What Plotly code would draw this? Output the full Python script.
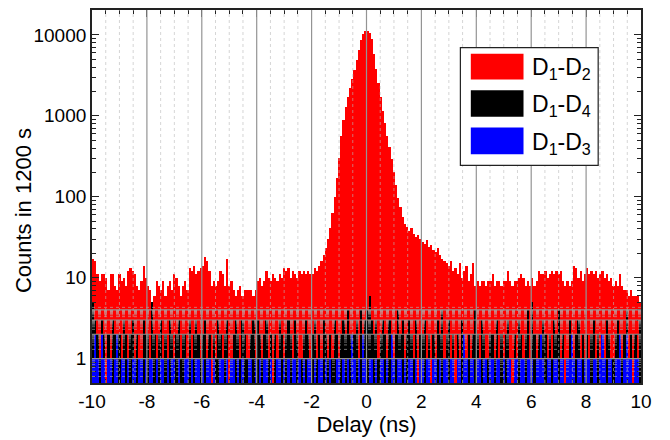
import math
import plotly.graph_objects as go

# ---------------- data (bins of 0.08 ns, centres -9.96 ... 9.96) ----------------
bin_width = 0.08
bin_centres = [round(-9.96 + bin_width * i, 2) for i in range(250)]

d12_counts = (
    [17, 16, 11, 9, 11, 11, 10, 7, 11, 11, 8, 7, 11, 9, 10, 8, 12, 13, 12, 11, 8, 7, 9, 14, 10]
    + [8, 7, 5, 6, 9, 8, 7, 9, 6, 8, 9, 7, 11, 10, 8, 6, 8, 9, 7, 13, 12, 14, 11, 12, 13]
    + [14, 18, 16, 12, 8, 9, 8, 9, 12, 11, 8, 17, 8, 9, 7, 6, 7, 8, 6, 7, 7, 7, 7, 6, 7]
    + [9, 10, 8, 9, 12, 10, 9, 11, 10, 9, 11, 10, 13, 12, 13, 10, 12, 11, 10, 12, 11, 12, 11, 12, 11]
    + [11, 13, 12, 14, 16, 19, 23, 30, 41, 63, 100, 170, 300, 560, 900, 1300, 1720, 2200, 2850, 3700, 4900, 6500, 8700, 10400, 11200]
    + [11300, 10500, 9000, 5800, 3800, 2560, 1720, 1160, 810, 570, 410, 290, 200, 138, 97, 74, 57, 46, 42, 38, 41, 35, 32, 34, 30]
    + [28, 26, 29, 24, 25, 22, 21, 23, 19, 17, 16, 15, 14, 16, 12, 13, 11, 15, 10, 12, 14, 9, 11, 15, 8]
    + [9, 8, 9, 9, 8, 9, 9, 11, 8, 9, 9, 8, 9, 9, 12, 9, 8, 9, 9, 10, 11, 10, 8, 9, 8]
    + [10, 8, 9, 12, 11, 11, 12, 10, 11, 12, 11, 12, 11, 12, 9, 8, 9, 8, 9, 14, 13, 10, 12, 9, 11]
    + [13, 11, 12, 11, 12, 10, 11, 12, 10, 11, 9, 10, 8, 9, 8, 11, 8, 7, 7, 6, 7, 6, 6, 6, 5]
)

d14_counts = (
    [5, 3, 2, 1, 3, 2, 0, 2, 1, 3, 2, 1, 2, 0, 3, 2, 1, 2, 3, 1, 2, 0, 1, 3, 2]
    + [2, 1, 5, 2, 1, 2, 3, 1, 2, 0, 3, 2, 1, 2, 3, 1, 2, 2, 0, 3, 1, 2, 3, 2, 1]
    + [2, 3, 1, 2, 0, 2, 1, 3, 2, 1, 2, 3, 0, 1, 2, 3, 2, 1, 3, 2, 1, 0, 2, 3, 1]
    + [3, 2, 1, 2, 3, 1, 2, 0, 2, 1, 3, 2, 1, 2, 3, 2, 1, 3, 2, 0, 1, 2, 3, 2, 1]
    + [2, 3, 1, 2, 0, 3, 2, 1, 2, 1, 3, 2, 1, 2, 3, 2, 4, 2, 1, 2, 3, 1, 4, 2, 3]
    + [4, 6, 3, 2, 3, 1, 2, 3, 2, 0, 3, 2, 1, 2, 4, 2, 3, 1, 2, 3, 2, 1, 3, 0, 2]
    + [2, 3, 1, 2, 0, 2, 1, 3, 2, 4, 1, 2, 3, 1, 2, 0, 2, 1, 3, 2, 1, 2, 0, 2, 4]
    + [2, 1, 3, 2, 0, 1, 2, 2, 1, 3, 0, 2, 1, 2, 3, 1, 0, 2, 1, 3, 2, 1, 2, 4, 1]
    + [5, 2, 1, 2, 0, 3, 2, 1, 2, 1, 3, 2, 4, 1, 2, 0, 1, 3, 2, 1, 2, 3, 1, 2, 0]
    + [2, 1, 2, 3, 0, 2, 1, 2, 1, 3, 2, 0, 1, 2, 3, 2, 1, 2, 4, 1, 2, 0, 2, 1, 3]
)

d13_counts = (
    [1, 2, 1, 0, 2, 1, 0, 1, 1, 0, 1, 2, 0, 1, 1, 0, 1, 0, 1, 1, 0, 1, 1, 0, 1]
    + [0, 1, 1, 0, 1, 0, 1, 1, 0, 1, 0, 1, 1, 0, 1, 0, 0, 1, 1, 0, 1, 0, 1, 1, 0]
    + [1, 0, 1, 1, 0, 1, 0, 0, 1, 1, 0, 1, 0, 1, 1, 0, 1, 0, 1, 0, 0, 1, 1, 0, 1]
    + [0, 1, 0, 1, 1, 0, 1, 0, 0, 1, 1, 0, 1, 0, 1, 0, 1, 1, 0, 1, 0, 1, 0, 1, 1]
    + [0, 1, 0, 1, 1, 0, 1, 0, 1, 0, 0, 1, 1, 0, 1, 0, 1, 0, 2, 1, 0, 1, 0, 2, 1]
    + [0, 1, 1, 0, 1, 0, 1, 1, 0, 1, 0, 2, 1, 0, 1, 1, 0, 1, 0, 1, 1, 0, 1, 0, 1]
    + [1, 0, 1, 1, 0, 1, 1, 0, 1, 0, 1, 1, 0, 1, 1, 0, 1, 1, 0, 2, 1, 0, 1, 1, 0]
    + [1, 1, 0, 1, 1, 0, 1, 1, 0, 1, 1, 0, 1, 0, 1, 1, 0, 1, 1, 0, 1, 1, 0, 1, 1]
    + [1, 0, 1, 1, 2, 1, 0, 1, 1, 0, 1, 1, 0, 1, 1, 0, 1, 1, 2, 1, 0, 1, 1, 0, 1]
    + [1, 1, 0, 1, 1, 0, 1, 2, 1, 0, 1, 1, 0, 1, 1, 2, 0, 1, 2, 1, 1, 0, 1, 1, 0]
)

series_names = ["D<sub>1</sub>-D<sub>2</sub>", "D<sub>1</sub>-D<sub>4</sub>", "D<sub>1</sub>-D<sub>3</sub>"]
series_colors = ["#ff0000", "#000000", "#0000ff"]

x_ticks = [-10, -8, -6, -4, -2, 0, 2, 4, 6, 8, 10]
x_minor = [v / 2 for v in range(-20, 21) if v % 4 != 0]
y_ticks = [1, 10, 100, 1000, 10000]
y_minor = [m * 10 ** e for e in range(-1, 5) for m in range(2, 10) if 0.5 <= m * 10 ** e <= 20000]
y_range = [math.log10(0.5), math.log10(20300)]

FONT = "Liberation Sans, Arial, Helvetica, sans-serif"

fig = go.Figure()
for name, vals, col in zip(series_names, [d12_counts, d14_counts, d13_counts], series_colors):
    fig.add_trace(go.Bar(
        x=bin_centres, y=[v if v > 0 else None for v in vals], width=bin_width,
        name=name, marker=dict(color=col, line=dict(width=0)), showlegend=False,
        hoverinfo="skip",
    ))

shapes = []
minor_line = dict(color="rgba(185,185,185,0.6)", width=1, dash="dot")
# minor grid (dotted), drawn above bars as in the reference
for xv in x_minor:
    shapes.append(dict(type="line", xref="x", yref="paper", x0=xv, x1=xv, y0=0, y1=1,
                       line=minor_line, layer="above"))
for yv in y_minor:
    ly = math.log10(yv)
    shapes.append(dict(type="line", xref="paper", yref="y", x0=0, x1=1, y0=ly, y1=ly,
                       line=minor_line, layer="above"))
# major grid
for xv in x_ticks[1:-1]:
    shapes.append(dict(type="line", xref="x", yref="paper", x0=xv, x1=xv, y0=0, y1=1,
                       line=dict(color="#949494", width=1.2), layer="above"))
for yv in y_ticks:
    ly = math.log10(yv)
    shapes.append(dict(type="line", xref="paper", yref="y", x0=0, x1=1, y0=ly, y1=ly,
                       line=dict(color="#949494", width=1.2), layer="above"))

# custom legend (large swatches as in the reference)
box = dict(x0=0.671, x1=0.922, y0=0.5836, y1=0.899)
shapes.append(dict(type="rect", xref="paper", yref="paper", **box,
                   line=dict(color="#222222", width=1.2), fillcolor="white", layer="above"))
rows = [(0.8829, 0.8137), (0.785, 0.714), (0.685, 0.6136)]
annotations = []
for (ya, yb), name, col in zip(rows, series_names, series_colors):
    shapes.append(dict(type="rect", xref="paper", yref="paper", x0=0.690, x1=0.786, y0=yb, y1=ya,
                       line=dict(width=0), fillcolor=col, layer="above"))
    annotations.append(dict(xref="paper", yref="paper", x=0.797, y=(ya + yb) / 2 - 0.006,
                            text=name, showarrow=False, xanchor="left", yanchor="middle",
                            font=dict(family=FONT, size=23, color="black")))

# y-axis title (slightly below the plot centre, as in the reference)
annotations.append(dict(xref="paper", yref="paper", x=-0.1256, y=0.461,
                        text="Counts in 1200 s", textangle=-90, showarrow=False,
                        xanchor="center", yanchor="middle",
                        font=dict(family=FONT, size=22, color="black")))

axis_common = dict(
    ticks="inside", ticklen=7, tickwidth=1.3, tickcolor="#222222",
    showline=True, linecolor="#222222", linewidth=1.8, mirror="allticks",
    showgrid=False, zeroline=False, layer="above traces",
    tickfont=dict(family=FONT, size=19, color="black"),
)

fig.update_layout(
    width=670, height=440,
    margin=dict(l=92, r=29, t=8, b=57),
    paper_bgcolor="white", plot_bgcolor="white",
    barmode="overlay", bargap=0,
    shapes=shapes, annotations=annotations,
    xaxis=dict(range=[-10, 10], tickmode="array", tickvals=x_ticks,
               ticktext=[str(v) for v in x_ticks],
               minor=dict(tickvals=x_minor, ticks="inside", ticklen=4, tickcolor="#222222"),
               title=dict(text="Delay (ns)", font=dict(family=FONT, size=22, color="black"), standoff=4),
               **axis_common),
    yaxis=dict(type="log", range=y_range, tickmode="array", tickvals=y_ticks,
               ticktext=[str(v) for v in y_ticks],
               minor=dict(tickvals=y_minor, ticks="inside", ticklen=4, tickcolor="#222222"),
               **axis_common),
    font=dict(family=FONT, color="black"),
)

fig.write_html("out.html", config={"displayModeBar": False})
